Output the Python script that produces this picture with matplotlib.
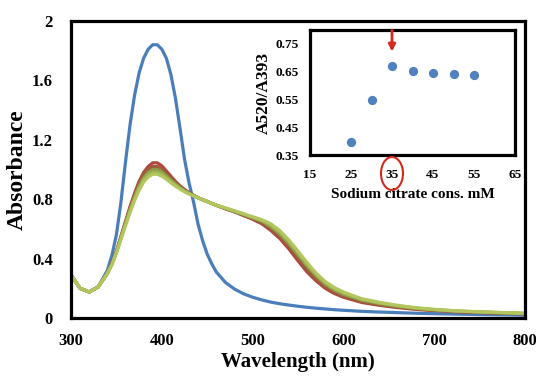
import matplotlib
matplotlib.use("Agg")
import matplotlib.pyplot as plt
from matplotlib.patches import Ellipse

plt.rcParams['font.family'] = ['Liberation Serif', 'DejaVu Serif']
plt.rcParams['font.weight'] = 'bold'

# ---------------- data ----------------
wavelength = [300, 310, 320, 330, 340, 345, 350, 355, 360, 365, 370, 375, 380, 385,
              390, 395, 400, 405, 410, 415, 420, 425, 430, 435, 440, 445, 450, 455,
              460, 470, 480, 490, 500, 510, 520, 530, 540, 550, 560, 570, 580, 590,
              600, 620, 640, 660, 680, 700, 725, 750, 775, 800]

abs_blue = [0.29, 0.20, 0.175, 0.21, 0.32, 0.42, 0.56, 0.78, 1.05, 1.30, 1.50, 1.65, 1.75, 1.81,
            1.84, 1.84, 1.81, 1.75, 1.64, 1.48, 1.28, 1.07, 0.91, 0.78, 0.63, 0.52, 0.43, 0.365,
            0.31, 0.24, 0.195, 0.163, 0.14, 0.122, 0.107, 0.096, 0.087, 0.079, 0.072, 0.066, 0.061, 0.056,
            0.052, 0.045, 0.040, 0.036, 0.032, 0.029, 0.026, 0.023, 0.021, 0.019]

abs_red = [0.29, 0.20, 0.175, 0.21, 0.30, 0.37, 0.45, 0.55, 0.65, 0.75, 0.84, 0.92, 0.98, 1.02,
           1.045, 1.045, 1.025, 0.99, 0.955, 0.92, 0.89, 0.865, 0.845, 0.827, 0.81, 0.797, 0.785, 0.772,
           0.76, 0.735, 0.715, 0.69, 0.665, 0.635, 0.59, 0.535, 0.465, 0.385, 0.31, 0.25, 0.20, 0.165,
           0.14, 0.105, 0.085, 0.07, 0.058, 0.05, 0.042, 0.036, 0.032, 0.028]

abs_brown = [0.29, 0.20, 0.175, 0.21, 0.30, 0.365, 0.445, 0.545, 0.64, 0.74, 0.83, 0.905, 0.965, 1.0,
             1.02, 1.02, 1.0, 0.97, 0.94, 0.91, 0.885, 0.86, 0.842, 0.825, 0.81, 0.796, 0.784, 0.771,
             0.759, 0.736, 0.716, 0.693, 0.67, 0.643, 0.603, 0.55, 0.485, 0.405, 0.33, 0.265, 0.215, 0.177,
             0.15, 0.112, 0.09, 0.074, 0.061, 0.052, 0.044, 0.038, 0.033, 0.029]

abs_olive = [0.29, 0.20, 0.175, 0.21, 0.30, 0.362, 0.442, 0.54, 0.635, 0.73, 0.815, 0.89, 0.945, 0.98,
             1.0, 1.0, 0.985, 0.957, 0.93, 0.902, 0.878, 0.856, 0.84, 0.824, 0.81, 0.796, 0.784, 0.771,
             0.759, 0.738, 0.718, 0.697, 0.675, 0.652, 0.615, 0.565, 0.5, 0.425, 0.35, 0.283, 0.228, 0.188,
             0.16, 0.12, 0.097, 0.079, 0.065, 0.055, 0.046, 0.04, 0.035, 0.03]

abs_green = [0.29, 0.20, 0.175, 0.21, 0.30, 0.36, 0.44, 0.535, 0.63, 0.72, 0.805, 0.875, 0.93, 0.965,
             0.983, 0.983, 0.97, 0.945, 0.92, 0.895, 0.873, 0.853, 0.838, 0.823, 0.81, 0.796, 0.784, 0.771,
             0.76, 0.74, 0.72, 0.70, 0.678, 0.657, 0.625, 0.578, 0.515, 0.44, 0.363, 0.293, 0.238, 0.197,
             0.168, 0.126, 0.101, 0.082, 0.067, 0.057, 0.047, 0.041, 0.036, 0.031]

abs_ygreen = [0.29, 0.20, 0.175, 0.21, 0.30, 0.358, 0.438, 0.53, 0.62, 0.71, 0.79, 0.86, 0.915, 0.95,
              0.968, 0.968, 0.955, 0.935, 0.91, 0.888, 0.868, 0.85, 0.835, 0.822, 0.81, 0.796, 0.784, 0.772,
              0.761, 0.742, 0.722, 0.702, 0.682, 0.662, 0.635, 0.588, 0.525, 0.45, 0.373, 0.302, 0.245, 0.205,
              0.175, 0.13, 0.105, 0.085, 0.069, 0.058, 0.048, 0.042, 0.037, 0.032]

xticks_main = [300, 400, 500, 600, 700, 800]
yticks_main = [0, 0.4, 0.8, 1.2, 1.6, 2]
ytick_labels_main = ["0", "0.4", "0.8", "1.2", "1.6", "2"]

citrate_mM = [25, 30, 35, 40, 45, 50, 55]
ratio_520_393 = [0.396, 0.547, 0.671, 0.651, 0.645, 0.641, 0.637]
xticks_inset = [15, 25, 35, 45, 55, 65]
yticks_inset = [0.35, 0.45, 0.55, 0.65, 0.75]
ytick_labels_inset = ["0.35", "0.45", "0.55", "0.65", "0.75"]

# ---------------- figure ----------------
W, H = 536, 380
fig = plt.figure(figsize=(W / 100, H / 100), dpi=100)
ax = fig.add_axes([71 / W, 1 - 318 / H, (525 - 71) / W, (318 - 21) / H])

series = [
    (abs_blue, '#4A7EBB'),
    (abs_red, '#B0473E'),
    (abs_brown, '#9A5E3A'),
    (abs_olive, '#8E9A48'),
    (abs_green, '#9CB452'),
    (abs_ygreen, '#B3C65E'),
]
for ys, c in series:
    ax.plot(wavelength, ys, color=c, lw=2.3, solid_capstyle='round',
            solid_joinstyle='round', zorder=2)

ax.set_xlim(300, 800)
ax.set_ylim(0, 2)
ax.set_xticks(xticks_main)
ax.set_yticks(yticks_main)
ax.set_yticklabels(ytick_labels_main)
ax.tick_params(length=0, labelsize=12, pad=11)
ax.tick_params(axis='y', pad=13)
for s in ax.spines.values():
    s.set_linewidth(2.3)
    s.set_color('black')
ax.set_xlabel('Wavelength (nm)', fontsize=15, fontweight='bold', labelpad=2)
ax.set_ylabel('Absorbance', fontsize=17, fontweight='bold', labelpad=3)

# ---------------- inset ----------------
axi = fig.add_axes([310 / W, 1 - 155 / H, (515 - 310) / W, (155 - 30) / H])
axi.scatter(citrate_mM, ratio_520_393, s=32, color='#4F81BD', zorder=3)
axi.set_xlim(15, 65)
axi.set_ylim(0.35, 0.80)
axi.set_xticks(xticks_inset)
axi.set_yticks(yticks_inset)
axi.set_yticklabels(ytick_labels_inset)
axi.tick_params(length=0, labelsize=9.5, pad=10)
axi.tick_params(axis='y', pad=8)
for s in axi.spines.values():
    s.set_linewidth(2.3)
    s.set_color('black')
axi.set_xlabel('Sodium citrate cons. mM', fontsize=11, fontweight='bold', labelpad=5)
axi.set_ylabel('A520/A393', fontsize=12.5, fontweight='bold', labelpad=3)

# red arrow over 35 mM
axi.annotate('', xy=(35, 0.722), xytext=(35, 0.80),
             arrowprops=dict(arrowstyle='-|>', color='#D42A1E', lw=2, mutation_scale=10,
                             shrinkA=0, shrinkB=0), annotation_clip=False)

# red circle around the "35" tick label
fig.canvas.draw()
px, _ = axi.transData.transform((35, 0.35))
cx = px / W
cy = 1 - 173.5 / H
fig.patches.append(Ellipse((cx, cy), 22 / W, 33 / H, transform=fig.transFigure,
                           fill=False, edgecolor='#D42A1E', lw=1.5))

fig.savefig('out.png', dpi=100)
